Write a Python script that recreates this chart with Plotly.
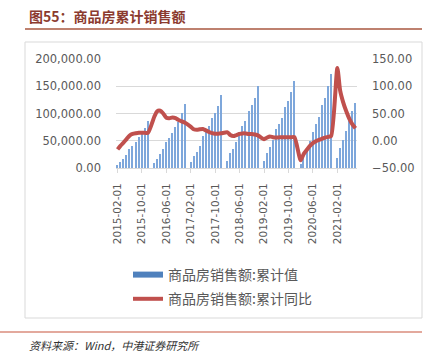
import plotly.graph_objects as go

# ---------------- data ----------------
years = [2015, 2016, 2017, 2018, 2019, 2020, 2021]
months = {
    2015: [2, 3, 4, 5, 6, 7, 8, 9, 10, 11, 12],
    2016: [2, 3, 4, 5, 6, 7, 8, 9, 10, 11, 12],
    2017: [2, 3, 4, 5, 6, 7, 8, 9, 10, 11, 12],
    2018: [2, 3, 4, 5, 6, 7, 8, 9, 10, 11, 12],
    2019: [2, 3, 4, 5, 6, 7, 8, 9, 10, 11, 12],
    2020: [2, 3, 4, 5, 6, 7, 8, 9, 10, 11, 12],
    2021: [2, 3, 4, 5, 6, 7, 8],
}

# 商品房销售额:累计值 (亿元)
sales_2015 = [5500, 11000, 16800, 23500, 34000, 40200, 47300, 56000, 63800, 72800, 86500]
sales_2016 = [9000, 16800, 24800, 34000, 47500, 55800, 64500, 75500, 84500, 100500, 117600]
sales_2017 = [11500, 21500, 29500, 40000, 58000, 67000, 76500, 91000, 101500, 114000, 133700]
sales_2018 = [12300, 27000, 35500, 47500, 66500, 76500, 86500, 104500, 115500, 128500, 150000]
sales_2019 = [12800, 27000, 38500, 51800, 70700, 81500, 92500, 111500, 123000, 139000, 159700]
sales_2020 = [8200, 20400, 33000, 49000, 66900, 80000, 94000, 115600, 129000, 150000, 172500]
sales_2021 = [17500, 37000, 51500, 68500, 86000, 105000, 119000]
sales = {2015: sales_2015, 2016: sales_2016, 2017: sales_2017, 2018: sales_2018,
         2019: sales_2019, 2020: sales_2020, 2021: sales_2021}

# 商品房销售额:累计同比 (%)
yoy_2015 = [-15.8, -9.3, -3.5, 3.0, 9.5, 12.5, 13.7, 14.5, 14.5, 14.5, 14.4]
yoy_2016 = [43.6, 54.1, 55.0, 50.0, 42.1, 41.3, 42.5, 41.5, 38.0, 35.5, 33.5]
yoy_2017 = [25.5, 21.0, 20.0, 21.0, 21.5, 19.0, 16.0, 14.0, 13.0, 13.0, 13.7]
yoy_2018 = [15.5, 10.4, 8.5, 10.5, 12.5, 13.5, 13.5, 12.5, 12.5, 11.5, 10.0]
yoy_2019 = [2.8, 5.6, 8.0, 6.5, 6.0, 6.2, 6.5, 6.5, 6.5, 6.5, 6.5]
yoy_2020 = [-35.9, -24.7, -17.0, -10.0, -4.5, -1.0, 1.5, 3.7, 5.8, 7.2, 8.7]
yoy_2021 = [133.4, 92.0, 70.0, 54.0, 40.0, 30.0, 23.0]
yoy = {2015: yoy_2015, 2016: yoy_2016, 2017: yoy_2017, 2018: yoy_2018,
       2019: yoy_2019, 2020: yoy_2020, 2021: yoy_2021}

tick_labels = ["2015-02-01", "2015-10-01", "2016-06-01", "2017-02-01", "2017-10-01",
               "2018-06-01", "2019-02-01", "2019-10-01", "2020-06-01", "2021-02-01"]

name_bar = "商品房销售额:累计值"
name_line = "商品房销售额:累计同比"
title_text = "图55：商品房累计销售额"
source_text = "资料来源：Wind，中港证券研究所"

# ---------------- build ----------------
dates, sales_vals, yoy_vals = [], [], []
for y in years:
    for m, s, r in zip(months[y], sales[y], yoy[y]):
        dates.append(f"{y}-{m:02d}-01")
        sales_vals.append(s)
        yoy_vals.append(r)

W, H = 434, 358
L, R, T, B = 116, 357, 59, 168   # plot area in pixels


def px(x):
    return (x - L) / (R - L)


def py(y):
    return (B - y) / (B - T)


fig = go.Figure()
fig.add_trace(go.Bar(
    x=dates, y=sales_vals, name=name_bar, showlegend=False,
    marker=dict(color="#7EA7DB", line=dict(width=0)),
    width=13 * 86400000, yaxis="y",
))
# legend proxy for bars (wide rectangle symbol)
fig.add_trace(go.Scatter(
    x=[None], y=[None], mode="lines", name=name_bar,
    line=dict(color="#4F81BD", width=6), legendgroup="a", yaxis="y",
))
fig.add_trace(go.Scatter(
    x=dates, y=yoy_vals, mode="lines", name=name_line,
    line=dict(color="#C0504D", width=4, shape="spline", smoothing=0.6),
    legendgroup="b", yaxis="y2",
))

axis_font = dict(family="DejaVu Sans, Noto Sans CJK SC", size=11.5, color="#595959")

fig.update_layout(
    width=W, height=H,
    margin=dict(l=L, r=W - R, t=T, b=H - B, autoexpand=False),
    paper_bgcolor="white", plot_bgcolor="white",
    bargap=0,
    xaxis=dict(
        type="date", range=["2015-01-16", "2021-08-16"],
        tickvals=tick_labels, ticktext=tick_labels, tickangle=-90,
        tickfont=dict(family="DejaVu Sans, Noto Sans CJK SC", size=10.5, color="#595959"),
        showgrid=False, showline=True, linecolor="#D9D9D9", linewidth=1,
        ticks="outside", ticklen=4, tickcolor="#D9D9D9",
        ticklabelstandoff=6, zeroline=False,
    ),
    yaxis=dict(
        range=[0, 200000], tickvals=[0, 50000, 100000, 150000, 200000],
        tickformat=",.2f", tickfont=axis_font,
        showgrid=True, gridcolor="#D9D9D9", gridwidth=1,
        zeroline=False, showline=False, ticks="", ticklabelstandoff=14,
    ),
    yaxis2=dict(
        range=[-50, 150], tickvals=[-50, 0, 50, 100, 150],
        tickformat=".2f", tickfont=axis_font, overlaying="y", side="right",
        showgrid=False, zeroline=False, showline=False, ticks="",
        ticklabelstandoff=14,
    ),
    legend=dict(
        x=px(128), y=py(259), xanchor="left", yanchor="top",
        orientation="v", traceorder="grouped", tracegroupgap=3,
        font=dict(family="Noto Sans CJK SC", size=14, color="#595959"),
        itemwidth=30, bgcolor="rgba(0,0,0,0)",
    ),
    shapes=[
        dict(type="rect", xref="paper", yref="paper",
             x0=px(25), x1=px(422), y0=py(318), y1=py(42),
             line=dict(color="#D9D9D9", width=1), layer="below"),
        dict(type="line", xref="paper", yref="paper",
             x0=px(25), x1=px(422), y0=py(29), y1=py(29),
             line=dict(color="#A9573F", width=1.5)),
        dict(type="line", xref="paper", yref="paper",
             x0=px(0), x1=px(422), y0=py(332), y1=py(332),
             line=dict(color="#C8553D", width=1.2)),
    ],
    annotations=[
        dict(text="<b>" + title_text + "</b>", xref="paper", yref="paper",
             x=px(27), y=py(16), xanchor="left", yanchor="middle", showarrow=False,
             font=dict(family="Noto Sans CJK SC", size=14, color="#8B3A2E")),
        dict(text="<i>" + source_text + "</i>", xref="paper", yref="paper",
             x=px(27), y=py(345), xanchor="left", yanchor="middle", showarrow=False,
             font=dict(family="Noto Sans CJK SC", size=11, color="#333333")),
    ],
)

# remove the browser's default 8px page margin so the figure sits at (0, 0)
fig.write_html("out.html", config={"displayModeBar": False},
               post_script="document.body.style.margin='0px';")
